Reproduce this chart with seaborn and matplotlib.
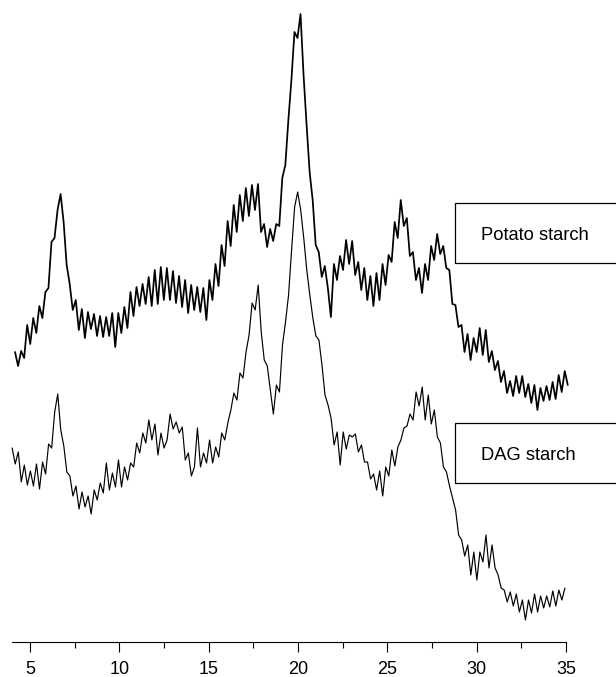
import numpy as np
import pandas as pd
import matplotlib
matplotlib.use("Agg")
import matplotlib.pyplot as plt
import seaborn as sns
from matplotlib.patches import Rectangle

# ---- data (2-theta grid start / step, intensities in arbitrary units) ----
step_deg = 0.17
potato_start = 4.16
dag_start = 4.0

potato_intensity = [
    290, 276, 291, 284, 317, 298, 324, 309, 336, 324, 350, 354, 400, 404, 432, 448, 420, 377, 358, 332,
    342, 312, 333, 304, 330, 313, 328, 306, 326, 305, 325, 306, 329, 295, 329, 309, 335, 314, 350, 326,
    355, 336, 358, 338, 365, 336, 372, 338, 375, 342, 374, 342, 371, 339, 366, 335, 362, 329, 357, 332,
    355, 330, 354, 322, 362, 342, 378, 356, 397, 376, 421, 396, 437, 410, 447, 421, 454, 426, 457, 432,
    458, 410, 418, 395, 413, 401, 418, 416, 464, 477, 522, 562, 610, 604, 628, 567, 517, 470, 442, 397,
    390, 365, 376, 354, 325, 378, 362, 386, 372, 402, 378, 401, 367, 380, 352, 374, 342, 366, 336, 369,
    342, 378, 357, 387, 380, 420, 404, 442, 416, 424, 386, 390, 362, 374, 349, 378, 362, 396, 382, 408,
    388, 396, 374, 372, 338, 337, 315, 317, 290, 308, 282, 304, 290, 314, 287, 312, 280, 291, 272, 281,
    260, 271, 249, 261, 246, 266, 249, 266, 245, 258, 239, 257, 232, 254, 241, 256, 242, 260, 243, 267,
    250, 271, 257,
]

dag_intensity = [
    194, 178, 190, 160, 177, 157, 171, 156, 178, 153, 180, 168, 198, 194, 230, 248, 212, 196, 170, 166,
    146, 156, 133, 150, 135, 146, 128, 152, 142, 159, 149, 179, 152, 169, 155, 182, 155, 175, 162, 179,
    175, 199, 189, 209, 199, 222, 202, 218, 187, 209, 194, 202, 228, 213, 220, 209, 215, 182, 189, 166,
    175, 214, 175, 189, 179, 202, 179, 195, 185, 209, 202, 219, 232, 249, 242, 269, 264, 290, 307, 339,
    332, 357, 310, 282, 276, 252, 228, 257, 250, 297, 320, 347, 392, 435, 450, 432, 404, 372, 347, 324,
    306, 302, 277, 247, 237, 224, 197, 210, 177, 210, 193, 207, 205, 208, 190, 197, 180, 180, 163, 168,
    152, 171, 146, 175, 166, 192, 176, 195, 202, 214, 216, 228, 222, 250, 236, 255, 222, 247, 218, 232,
    205, 199, 175, 170, 156, 144, 132, 107, 102, 86, 97, 67, 90, 62, 90, 80, 107, 74, 97, 74,
    67, 54, 52, 40, 50, 36, 48, 30, 42, 22, 42, 29, 48, 30, 46, 34, 46, 35, 51, 36,
    52, 42, 54,
]

tick_values = [5, 10, 15, 20, 25, 30, 35]
label_potato = "Potato starch"
label_dag = "DAG starch"

potato_theta = potato_start + step_deg * np.arange(len(potato_intensity))
dag_theta = dag_start + step_deg * np.arange(len(dag_intensity))
df_potato = pd.DataFrame({"two_theta": potato_theta, "intensity": potato_intensity})
df_dag = pd.DataFrame({"two_theta": dag_theta, "intensity": dag_intensity})

# ---- styling ----
sns.set_style("white")
plt.rcParams["font.family"] = ["Liberation Sans", "DejaVu Sans"]

W, H = 616, 677
fig = plt.figure(figsize=(W / 100, H / 100), dpi=100)
ax = fig.add_axes([12 / W, (H - 642) / H, 554 / W, 642 / H])

sns.lineplot(data=df_potato, x="two_theta", y="intensity", ax=ax, color="black",
             linewidth=1.25, estimator=None, sort=False)
sns.lineplot(data=df_dag, x="two_theta", y="intensity", ax=ax, color="black",
             linewidth=0.85, estimator=None, sort=False)
for ln in ax.lines:
    ln.set_clip_on(False)

ax.set_xlim(3.99, 35.0)
ax.set_ylim(0, 642)
ax.set_xticks(tick_values)
ax.set_xticklabels([str(t) for t in tick_values])
ax.set_xticks([7.5, 12.5, 17.5, 22.5, 27.5, 32.5], minor=True)
ax.set_yticks([])
ax.set_xlabel("")
ax.set_ylabel("")
for s in ("top", "right", "left"):
    ax.spines[s].set_visible(False)
ax.spines["bottom"].set_linewidth(0.8)
ax.spines["bottom"].set_color("black")
ax.tick_params(axis="x", which="major", direction="out", length=7.2, width=0.8,
               colors="black", labelsize=13, pad=6.5, bottom=True)
ax.tick_params(axis="x", which="minor", direction="out", length=4.3, width=0.8,
               colors="black", bottom=True)
ax.patch.set_alpha(0)

# ---- labelled boxes ----
def box(top_px, text):
    y0 = (H - top_px - 60) / H
    fig.patches.append(Rectangle((455 / W, y0), 170 / W, 60 / H, transform=fig.transFigure,
                                 fill=False, edgecolor="black", linewidth=0.9))
    fig.text(481 / W, (H - top_px - 32) / H, text, ha="left", va="center", fontsize=13.2,
             color="black")

box(203, label_potato)
box(423, label_dag)

fig.savefig("out.png", dpi=100)
